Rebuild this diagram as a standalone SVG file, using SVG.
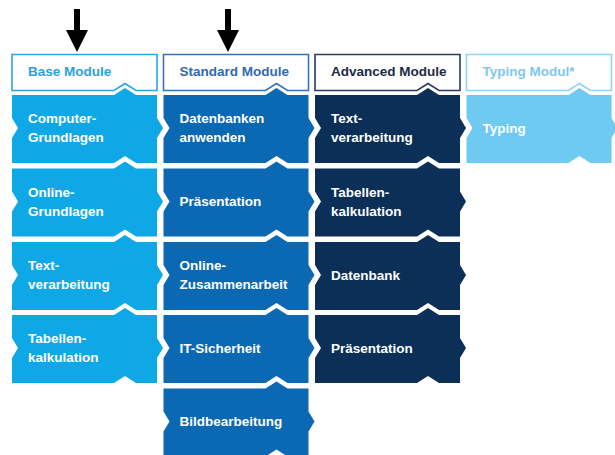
<svg xmlns="http://www.w3.org/2000/svg" xmlns:xlink="http://www.w3.org/1999/xlink" width="615" height="455" viewBox="0 0 615 455">
<style>
text{font-family:"Liberation Sans",Arial,sans-serif;font-weight:bold;font-size:13.5px}
.t{fill:#ffffff}
.hdr{fill:#ffffff;stroke-width:1.6}
.base{fill:#0fa8e7}
.std{fill:#0b69b3}
.adv{fill:#0c2f57}
.typ{fill:#6fcaf2}
.hb{stroke:#2aa6df}.hs{stroke:#3573b5}.ha{stroke:#2b3d5c}.ht{stroke:#8fd4f3}
.tb{fill:#2ba1de}.ts{fill:#2e6aaf}.ta{fill:#1d2b45}.tt{fill:#7dc8ee}
.arrow{fill:#000000}
</style>
<defs>
<path id="tile" d="M0,0 H102 L113,-7 L124,0 H145 V23 L151,33 L145,43 V68 H124 L113,61 L102,68 H0 V43 L6,33 L0,23 Z"/>
<path id="head" d="M0,0 H145 V36 H124 L113,29 L102,36 H0 Z"/>
</defs>

<g id="connectors">
<path class="arrow" d="M74,9 H80 V30 H88 L77,52 L66,30 H74 Z"/>
<path class="arrow" d="M225,9 H231 V30 H239 L228,52 L217,30 H225 Z"/>
</g>

<!-- Base column -->
<g id="base-header" transform="translate(12,54.5)"><use xlink:href="#head" class="hdr hb"/><text class="tb" x="16" y="21.5">Base Module</text></g>
<g id="base-1" transform="translate(12,95)"><use xlink:href="#tile" class="base"/><text class="t" x="16" y="28">Computer-</text><text class="t" x="16" y="47">Grundlagen</text></g>
<g id="base-2" transform="translate(12,168.5)"><use xlink:href="#tile" class="base"/><text class="t" x="16" y="28">Online-</text><text class="t" x="16" y="47">Grundlagen</text></g>
<g id="base-3" transform="translate(12,242)"><use xlink:href="#tile" class="base"/><text class="t" x="16" y="28">Text-</text><text class="t" x="16" y="47">verarbeitung</text></g>
<g id="base-4" transform="translate(12,315)"><use xlink:href="#tile" class="base"/><text class="t" x="16" y="28">Tabellen-</text><text class="t" x="16" y="47">kalkulation</text></g>

<!-- Standard column -->
<g id="std-header" transform="translate(163.5,54.5)"><use xlink:href="#head" class="hdr hs"/><text class="ts" x="16" y="21.5">Standard Module</text></g>
<g id="std-1" transform="translate(163.5,95)"><use xlink:href="#tile" class="std"/><text class="t" x="16" y="28">Datenbanken</text><text class="t" x="16" y="47">anwenden</text></g>
<g id="std-2" transform="translate(163.5,168.5)"><use xlink:href="#tile" class="std"/><text class="t" x="16" y="37.5">Präsentation</text></g>
<g id="std-3" transform="translate(163.5,242)"><use xlink:href="#tile" class="std"/><text class="t" x="16" y="28">Online-</text><text class="t" x="16" y="47">Zusammenarbeit</text></g>
<g id="std-4" transform="translate(163.5,315)"><use xlink:href="#tile" class="std"/><text class="t" x="16" y="37.5">IT-Sicherheit</text></g>
<g id="std-5" transform="translate(163.5,388.5)"><use xlink:href="#tile" class="std"/><text class="t" x="16" y="37.5">Bildbearbeitung</text></g>

<!-- Advanced column -->
<g id="adv-header" transform="translate(315,54.5)"><use xlink:href="#head" class="hdr ha"/><text class="ta" x="16" y="21.5">Advanced Module</text></g>
<g id="adv-1" transform="translate(315,95)"><use xlink:href="#tile" class="adv"/><text class="t" x="16" y="28">Text-</text><text class="t" x="16" y="47">verarbeitung</text></g>
<g id="adv-2" transform="translate(315,168.5)"><use xlink:href="#tile" class="adv"/><text class="t" x="16" y="28">Tabellen-</text><text class="t" x="16" y="47">kalkulation</text></g>
<g id="adv-3" transform="translate(315,242)"><use xlink:href="#tile" class="adv"/><text class="t" x="16" y="37.5">Datenbank</text></g>
<g id="adv-4" transform="translate(315,315)"><use xlink:href="#tile" class="adv"/><text class="t" x="16" y="37.5">Präsentation</text></g>

<!-- Typing column -->
<g id="typ-header" transform="translate(466.5,54.5)"><use xlink:href="#head" class="hdr ht"/><text class="tt" x="16" y="21.5">Typing Modul*</text></g>
<g id="typ-1" transform="translate(466.5,95)"><use xlink:href="#tile" class="typ"/><text class="t" x="16" y="37.5">Typing</text></g>
</svg>
